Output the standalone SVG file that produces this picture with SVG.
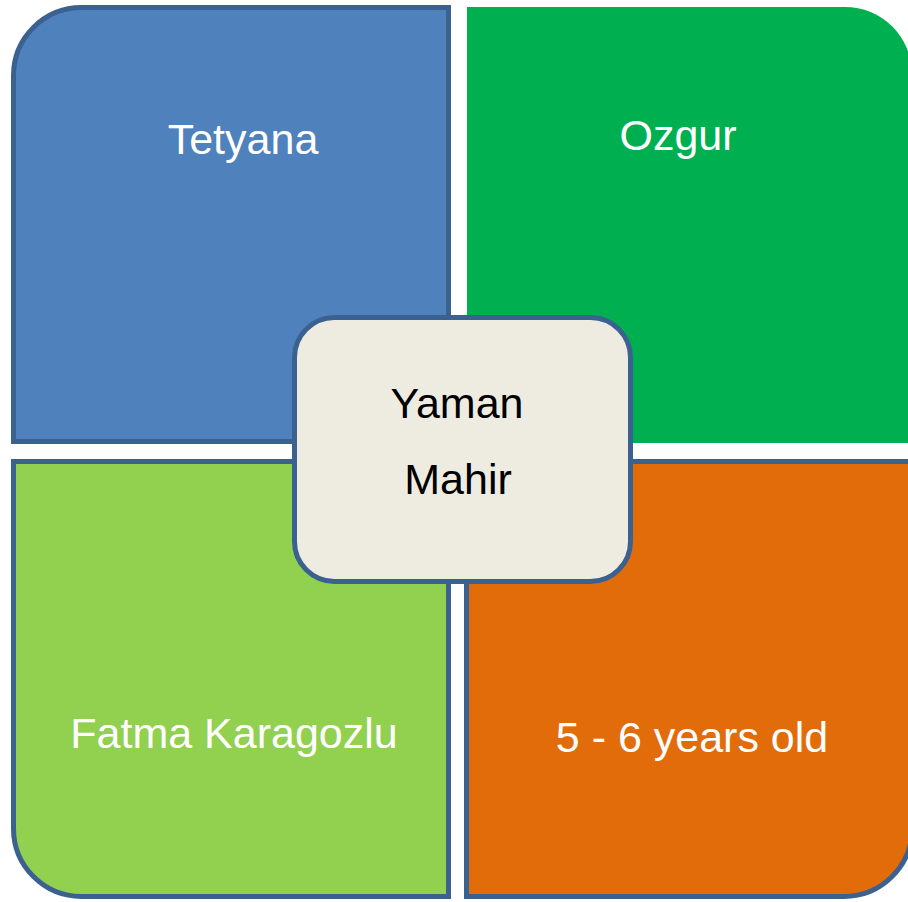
<svg xmlns="http://www.w3.org/2000/svg" width="908" height="902" viewBox="0 0 908 902">
<style>
.q{stroke:#3B6190;stroke-width:5;stroke-linejoin:miter}
.wt{font-family:"Liberation Sans",Arial,sans-serif;font-size:43px;fill:#FFFFFF;text-anchor:middle}
.bt{font-family:"Liberation Sans",Arial,sans-serif;font-size:43px;fill:#000000;text-anchor:middle}
</style>
<rect x="0" y="0" width="908" height="902" fill="#FFFFFF"/>
<g id="tetyana">
<path class="q" d="M13.5,441.5 V75.5 A68,68 0 0 1 81.5,7.5 H448.5 V441.5 Z" fill="#4F81BD"/>
<text class="wt" x="243" y="154">Tetyana</text>
</g>
<g id="ozgur">
<path d="M467,443 V7 H845 A67,67 0 0 1 912,74 V443 Z" fill="#00B050"/>
<text class="wt" x="678" y="150">Ozgur</text>
</g>
<g id="fatma">
<path class="q" d="M13.5,461.5 H448.5 V896.5 H81.5 A68,68 0 0 1 13.5,828.5 Z" fill="#92D050"/>
<text class="wt" x="234" y="748">Fatma Karagozlu</text>
</g>
<g id="age">
<path class="q" d="M466.5,461.5 H912 V828.5 A68,68 0 0 1 844,896.5 H466.5 Z" fill="#E36C0A"/>
<text class="wt" x="692" y="752">5 - 6 years old</text>
</g>
<g id="center">
<rect class="q" x="294.5" y="317.5" width="336" height="264" rx="40" ry="40" fill="#EEECE1"/>
<text class="bt" x="457" y="418">Yaman</text>
<text class="bt" x="458" y="494">Mahir</text>
</g>
<g id="connectors"></g>
</svg>
